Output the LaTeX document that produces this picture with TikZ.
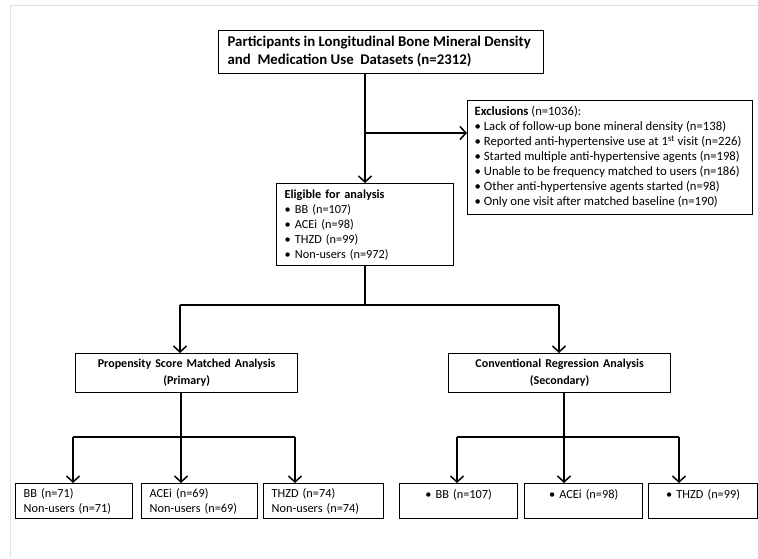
\documentclass[tikz,border=0pt]{standalone}
\usepackage{fontspec}
\setmainfont{Carlito}
\usetikzlibrary{arrows.meta}

\tikzset{
  box/.style={draw, line width=1.3pt, anchor=north west, inner ysep=1pt,
    font=\fontsize{12.3}{15}\selectfont},
  arr/.style={line width=1.5pt, -{Straight Barb[length=6pt,width=13pt,line width=1.5pt]}},
  link/.style={line width=1.5pt}
}
\newcommand{\bul}{\textbullet\ }
\newcommand{\boxlines}[2]{\makebox[#1][l]{\begin{tabular}{@{}l@{}}#2\end{tabular}}}

\begin{document}
\begin{tikzpicture}[x=1pt,y=-1pt]
  \useasboundingbox (0,0) rectangle (758,558);
  \draw [black!12, line width=1pt] (758,5) -- (10,5) -- (10,558);

  \node [box, minimum height=43pt, inner xsep=9pt,
    font=\fontsize{14.8}{18}\selectfont\bfseries] (top) at (218,30)
    {\boxlines{307pt}{Participants in Longitudinal Bone Mineral Density\\and~ Medication Use~ Datasets (n=2312)}};
  \node [box, minimum height=114pt, inner xsep=7pt,
    font=\fontsize{12.7}{15}\selectfont] (excl) at (467,100)
    {\boxlines{271pt}{\textbf{Exclusions} (n=1036):\\
     \bul Lack of follow-up bone mineral density (n=138)\\
     \bul Reported anti-hypertensive use at 1\textsuperscript{st} visit (n=226)\\
     \bul Started multiple anti-hypertensive agents (n=198)\\
     \bul Unable to be frequency matched to users (n=186)\\
     \bul Other anti-hypertensive agents started (n=98)\\
     \bul Only one visit after matched baseline (n=190)}};
  \node [box, minimum height=82pt, inner xsep=8pt, text width=161pt, align=left] (elig) at (276,183)
    {\textbf{Eligible for analysis}\\
     \bul BB (n=107)\\ \bul ACEi (n=98)\\ \bul THZD (n=99)\\ \bul Non-users (n=972)};

  \node [box, minimum height=39pt, inner xsep=4pt, text width=214pt, align=center,
    font=\fontsize{12}{17}\selectfont\bfseries] (psm) at (75,353)
    {Propensity Score Matched Analysis\\(Primary)};
  \node [box, minimum height=39pt, inner xsep=4pt, text width=214pt, align=center,
    font=\fontsize{12}{17}\selectfont\bfseries] (conv) at (448,353)
    {Conventional Regression Analysis\\(Secondary)};

  \node [box, minimum height=35pt, inner xsep=8pt, text width=101pt, align=left] (bb1) at (15,483)
    {BB (n=71)\\Non-users (n=71)};
  \node [box, minimum height=35pt, inner xsep=8pt, text width=100pt, align=left] (ace1) at (141,483)
    {ACEi (n=69)\\Non-users (n=69)};
  \node [box, minimum height=35pt, inner xsep=8pt, text width=104pt, align=left] (thz1) at (263,483)
    {THZD (n=74)\\Non-users (n=74)};
  \node [box, minimum height=35pt, inner xsep=4pt, text width=110pt, align=center] (bb2) at (399,483)
    {\bul BB (n=107)\\\mbox{}};
  \node [box, minimum height=35pt, inner xsep=4pt, text width=110pt, align=center] (ace2) at (524,483)
    {\bul ACEi (n=98)\\\mbox{}};
  \node [box, minimum height=35pt, inner xsep=4pt, text width=101pt, align=center] (thz2) at (648,483)
    {\bul THZD (n=99)\\\mbox{}};

  % main spine
  \coordinate (spine) at (365,133);
  \coordinate (split) at (365,305);
  \coordinate (lsplit) at (180,305);
  \coordinate (rsplit) at (559,305);
  \draw [arr] (spine |- top.south) -- (spine |- elig.north);
  \draw [arr] (spine) -- (excl.west |- spine);
  \draw [link] (spine |- elig.south) -- (split);
  \draw [link] (lsplit) -- (rsplit);
  \draw [arr] (lsplit) -- (lsplit |- psm.north);
  \draw [arr] (rsplit) -- (rsplit |- conv.north);

  % lower forks
  \coordinate (pb1) at (73,437);
  \coordinate (pb2) at (181,437);
  \coordinate (pb3) at (295,437);
  \coordinate (cb1) at (457,437);
  \coordinate (cb2) at (564,437);
  \coordinate (cb3) at (679,437);
  \draw [link] (pb1) -- (pb3);
  \draw [link] (cb1) -- (cb3);
  \draw [link] (psm.south -| pb2) -- (pb2);
  \draw [link] (conv.south -| cb2) -- (cb2);
  \foreach \b/\n in {pb1/bb1, pb2/ace1, pb3/thz1, cb1/bb2, cb2/ace2, cb3/thz2}
    \draw [arr] (\b) -- (\b |- \n.north);
\end{tikzpicture}
\end{document}
